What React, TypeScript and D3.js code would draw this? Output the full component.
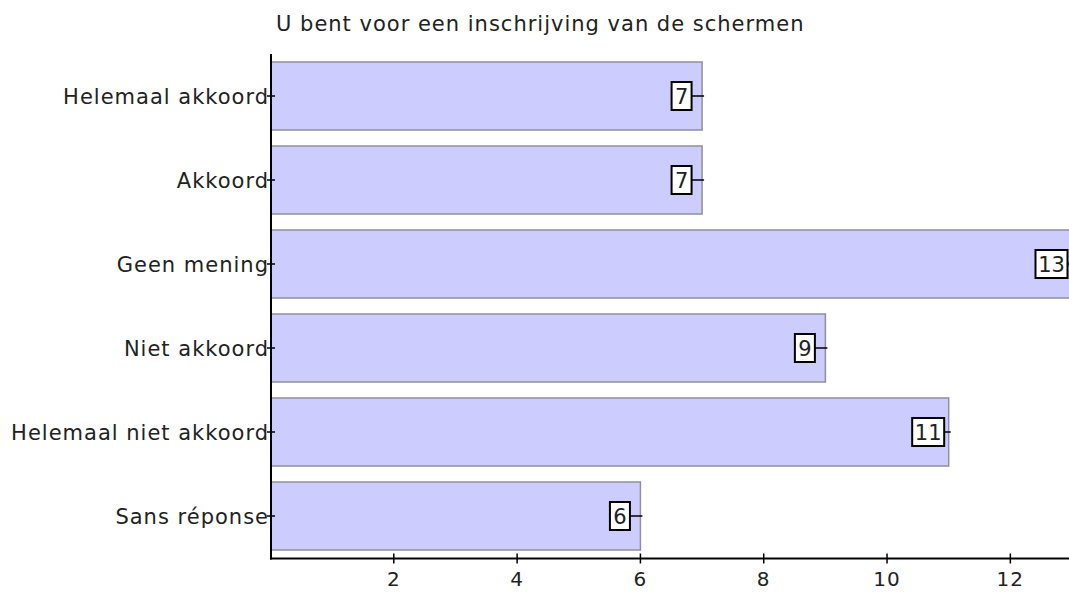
import React from "react";
import * as d3 from "d3";

const title = "U bent voor een inschrijving van de schermen";
const categories = [
  "Helemaal akkoord",
  "Akkoord",
  "Geen mening",
  "Niet akkoord",
  "Helemaal niet akkoord",
  "Sans réponse",
];
const values = [7, 7, 13, 9, 11, 6];
const tickValues = [2, 4, 6, 8, 10, 12];

const W = 1069;
const H = 603;
const FONT = "'DejaVu Sans', Verdana, sans-serif";

export default function App() {
  const x = d3.scaleLinear().domain([0, 13]).range([270.5, 1072]);
  const y = d3
    .scaleBand<string>()
    .domain(categories)
    .range([54, 558])
    .paddingInner(16 / 84)
    .paddingOuter(8 / 84);
  const axisY = 558.5;
  const axisX = 271;

  return (
    <svg
      width={W}
      height={H}
      style={{ position: "absolute", left: 0, top: 0, display: "block", background: "#fff" }}
      fontFamily={FONT}
    >
      <text x={276} y={31} fontSize={21} letterSpacing={1} fill="#222">
        {title}
      </text>

      {categories.map((c, i) => {
        const y0 = y(c)!;
        const bw = y.bandwidth();
        return (
          <rect
            key={c}
            x={axisX}
            y={y0}
            width={x(values[i]) - axisX}
            height={bw}
            fill="#ccccff"
            stroke="#8f8f9f"
            strokeWidth={1.5}
          />
        );
      })}

      {/* axes */}
      <line x1={axisX} x2={axisX} y1={54} y2={axisY + 1} stroke="#000" strokeWidth={2} />
      <line x1={axisX - 1} x2={W} y1={axisY} y2={axisY} stroke="#000" strokeWidth={2} />

      {categories.map((c) => {
        const cy = y(c)! + y.bandwidth() / 2;
        return (
          <g key={"t" + c}>
            <line x1={axisX - 4} x2={axisX + 4} y1={cy} y2={cy} stroke="#000" strokeWidth={1.5} />
            <text x={269} y={cy + 8} textAnchor="end" fontSize={21} letterSpacing={1} fill="#222">
              {c}
            </text>
          </g>
        );
      })}

      {tickValues.map((t) => (
        <g key={"x" + t}>
          <line x1={x(t)} x2={x(t)} y1={axisY - 5} y2={axisY + 5} stroke="#000" strokeWidth={1.5} />
          <text x={x(t)} y={586} textAnchor="middle" fontSize={20} letterSpacing={1} fill="#222">
            {t}
          </text>
        </g>
      ))}

      {categories.map((c, i) => {
        const cy = y(c)! + y.bandwidth() / 2;
        const v = values[i];
        const label = String(v);
        const bw = label.length * 12 + 8;
        const cx = x(v) - 20.5;
        return (
          <g key={"v" + c}>
            <line x1={cx + bw / 2} x2={x(v) + 2} y1={cy} y2={cy} stroke="#000" strokeWidth={1.5} />
            <rect
              x={cx - bw / 2}
              y={cy - 14}
              width={bw}
              height={28}
              fill="#fff"
              stroke="#000"
              strokeWidth={2}
            />
            <text x={cx} y={cy + 8} textAnchor="middle" fontSize={21} fill="#222">
              {label}
            </text>
          </g>
        );
      })}
    </svg>
  );
}
